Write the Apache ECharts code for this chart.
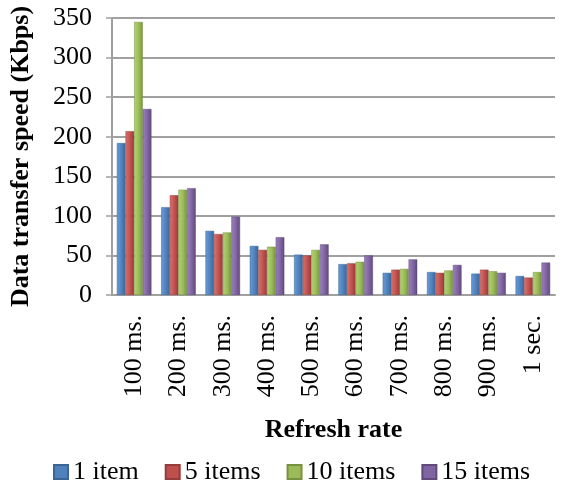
<!DOCTYPE html>
<html>
<head>
<meta charset="utf-8">
<script src="https://cdn.jsdelivr.net/npm/echarts@6/dist/echarts.min.js"></script>
<style>
  html, body { margin: 0; padding: 0; background: #fff; }
  #chart { width: 572px; height: 485px; }
</style>
</head>
<body>
<div id="chart"></div>
<script>
const categories = ['100 ms.', '200 ms.', '300 ms.', '400 ms.', '500 ms.', '600 ms.', '700 ms.', '800 ms.', '900 ms.', '1 sec.']
const seriesNames = ['1 item', '5 items', '10 items', '15 items']
const item1 = [192, 111, 81, 62, 51, 39, 28, 29, 27, 24]
const items5 = [207, 126, 77, 57, 50, 40, 32, 28, 32, 22]
const items10 = [345, 133, 79, 61, 57, 42, 33, 31, 30, 29]
const items15 = [235, 135, 99, 73, 64, 50, 45, 38, 28, 41]
const yTicks = { min: 0, max: 350, interval: 50 }

const colors = [
  ['#6a9bd6', '#4F81BD', '#3b6694'],
  ['#d8726f', '#C0504D', '#963c3a'],
  ['#b4d275', '#9BBB59', '#76923f'],
  ['#9a82bd', '#8064A2', '#5f4a7a']
]

function grad(c) {
  return new echarts.graphic.LinearGradient(0, 0, 1, 0, [
    { offset: 0, color: c[0] },
    { offset: 0.55, color: c[1] },
    { offset: 1, color: c[2] }
  ])
}

const font = 'Liberation Serif'
const chart = echarts.init(document.getElementById('chart'))
const allData = [item1, items5, items10, items15]

chart.setOption({
  animation: false,
  grid: { left: 103, right: 17, top: 18, bottom: 190 },
  legend: {
    bottom: -5,
    left: 48,
    icon: 'rect',
    itemWidth: 14,
    itemHeight: 14,
    itemGap: 26,
    textStyle: { fontFamily: font, fontSize: 26, color: '#000' },
    data: seriesNames.map((n, i) => ({ name: n, itemStyle: { color: colors[i][1] } }))
  },
  xAxis: {
    type: 'category',
    data: categories,
    name: 'Refresh rate',
    nameLocation: 'middle',
    nameGap: 122,
    nameTextStyle: { fontFamily: font, fontSize: 26, fontWeight: 'bold', color: '#000' },
    axisLine: { lineStyle: { color: '#a0a0a0', width: 2 } },
    axisTick: { show: false },
    axisLabel: { rotate: 90, margin: 20, fontFamily: font, fontSize: 26, color: '#000' }
  },
  yAxis: {
    type: 'value',
    min: yTicks.min,
    max: yTicks.max,
    interval: yTicks.interval,
    name: 'Data transfer speed (Kbps)',
    nameLocation: 'middle',
    nameGap: 78,
    nameTextStyle: { fontFamily: font, fontSize: 26, fontWeight: 'bold', color: '#000' },
    axisLine: { show: true, lineStyle: { color: '#a0a0a0', width: 2 } },
    axisTick: { show: true, length: 6, lineStyle: { color: '#a0a0a0', width: 1.5 } },
    axisLabel: { fontFamily: font, fontSize: 26, color: '#000', margin: 20 },
    splitLine: { lineStyle: { color: '#a0a0a0', width: 2 } }
  },
  series: allData.map((d, i) => ({
    name: seriesNames[i],
    type: 'bar',
    data: d,
    barGap: '0%',
    barCategoryGap: '22%',
    itemStyle: { color: grad(colors[i]), borderColor: colors[i][2], borderWidth: 0.5 }
  }))
})
</script>
</body>
</html>
